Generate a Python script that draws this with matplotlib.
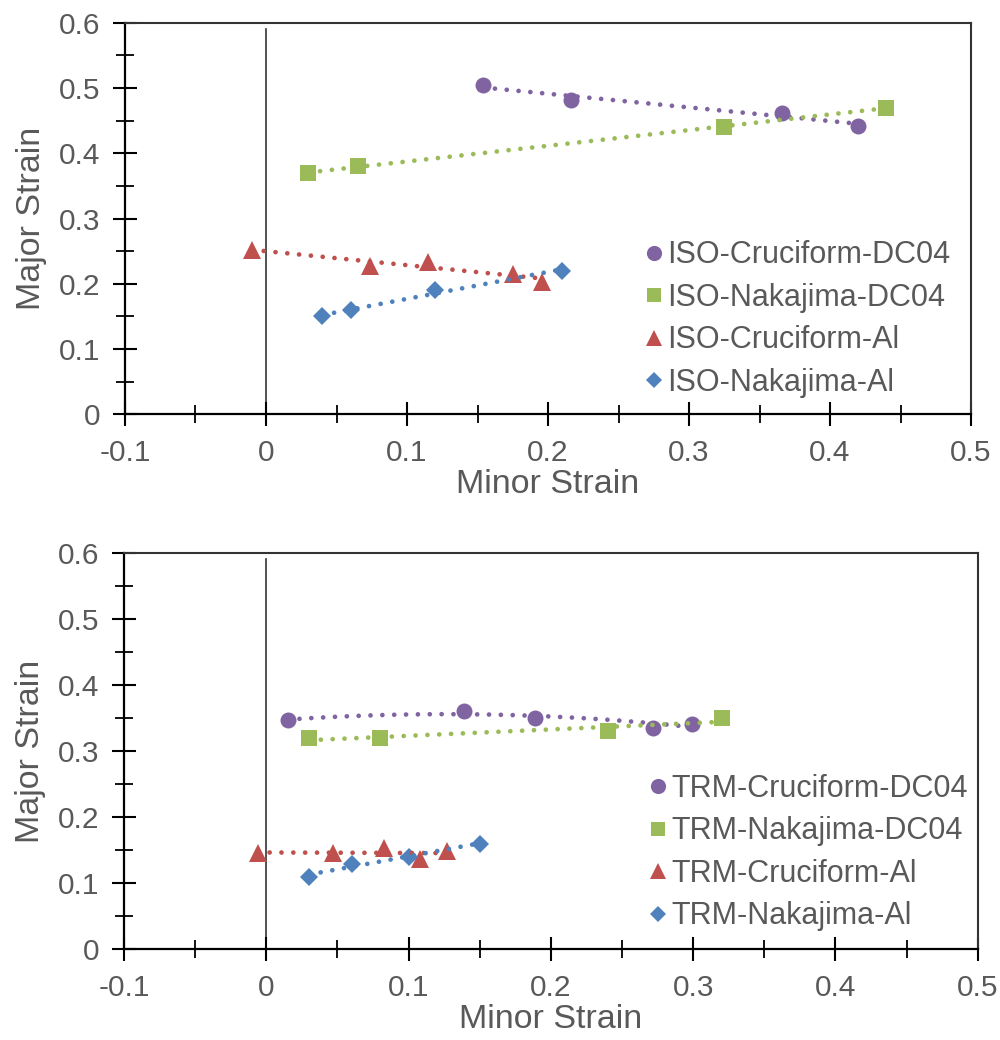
import numpy as np
import matplotlib
matplotlib.use("Agg")
import matplotlib.pyplot as plt
from matplotlib.lines import Line2D
from matplotlib.ticker import MultipleLocator, FuncFormatter

plt.rcParams['font.family'] = ['Liberation Sans', 'DejaVu Sans']

# ---------------- data ----------------
iso_labels = ["ISO-Cruciform-DC04", "ISO-Nakajima-DC04", "ISO-Cruciform-Al", "ISO-Nakajima-Al"]
iso_cru_dc04_x = [0.154, 0.216, 0.366, 0.420]
iso_cru_dc04_y = [0.504, 0.482, 0.462, 0.442]
iso_nak_dc04_x = [0.030, 0.065, 0.325, 0.440]
iso_nak_dc04_y = [0.370, 0.380, 0.440, 0.470]
iso_cru_al_x = [-0.010, 0.074, 0.115, 0.175, 0.196]
iso_cru_al_y = [0.252, 0.228, 0.234, 0.215, 0.203]
iso_nak_al_x = [0.040, 0.060, 0.120, 0.210]
iso_nak_al_y = [0.150, 0.160, 0.190, 0.220]

trm_labels = ["TRM-Cruciform-DC04", "TRM-Nakajima-DC04", "TRM-Cruciform-Al", "TRM-Nakajima-Al"]
trm_cru_dc04_x = [0.015, 0.139, 0.189, 0.272, 0.299]
trm_cru_dc04_y = [0.347, 0.361, 0.351, 0.336, 0.342]
trm_nak_dc04_x = [0.030, 0.080, 0.240, 0.320]
trm_nak_dc04_y = [0.320, 0.320, 0.330, 0.350]
trm_cru_al_x = [-0.006, 0.047, 0.083, 0.108, 0.127]
trm_cru_al_y = [0.146, 0.146, 0.153, 0.137, 0.149]
trm_nak_al_x = [0.030, 0.060, 0.100, 0.150]
trm_nak_al_y = [0.110, 0.130, 0.140, 0.160]

colors = ["#8064A2", "#9BBB59", "#C0504D", "#4F81BD"]
markers = ["o", "s", "^", "D"]
msizes = [11.5, 11.0, 12.5, 9.0]
text_color = "#595959"

fig = plt.figure(figsize=(10, 10.4), dpi=100)
ax1 = fig.add_axes([0.125, 0.6016, 0.846, 0.3766])
ax2 = fig.add_axes([0.124, 0.0872, 0.8537, 0.3808])


def fmt(v, pos):
    if abs(v) < 1e-9:
        return "0"
    return f"{v:g}".replace("\u2212", "-")


def style_axes(ax):
    ax.set_xlim(-0.1, 0.5)
    ax.set_ylim(0, 0.6)
    ax.xaxis.set_major_locator(MultipleLocator(0.1))
    ax.xaxis.set_minor_locator(MultipleLocator(0.05))
    ax.yaxis.set_major_locator(MultipleLocator(0.1))
    ax.yaxis.set_minor_locator(MultipleLocator(0.05))
    ax.xaxis.set_major_formatter(FuncFormatter(fmt))
    ax.yaxis.set_major_formatter(FuncFormatter(fmt))
    ax.tick_params(which='major', direction='inout', length=17, width=1.5,
                   color='black', labelsize=21.5, labelcolor=text_color, pad=9)
    ax.tick_params(which='minor', direction='inout', length=13, width=1.3, color='black')
    ax.tick_params(axis='y', which='both', left=True, right=False)
    ax.tick_params(axis='x', which='both', bottom=True, top=False)
    for s in ['left', 'bottom']:
        ax.spines[s].set_linewidth(1.6)
        ax.spines[s].set_color('black')
    for s in ['top', 'right']:
        ax.spines[s].set_linewidth(1.5)
        ax.spines[s].set_color('#333333')
    ax.axvline(0, ymin=0, ymax=0.985, color='#333333', lw=1.2, zorder=1)
    ax.set_xlabel("Minor Strain", fontsize=24.5, color=text_color, labelpad=2)
    ax.set_ylabel("Major Strain", fontsize=24.5, color=text_color, labelpad=9)


def plot_series(ax, xs, ys, labels, orders):
    handles = []
    for i, (x, y) in enumerate(zip(xs, ys)):
        x = np.asarray(x)
        y = np.asarray(y)
        ax.plot(x, y, linestyle='none', marker=markers[i], markersize=msizes[i],
                color=colors[i], markeredgewidth=0, zorder=3)
        coef = np.polyfit(x, y, orders[i])
        xx = np.linspace(x.min(), x.max(), 200)
        ax.plot(xx, np.polyval(coef, xx), linestyle=(0, (0.01, 2.5)), lw=3.4,
                dash_capstyle='round', color=colors[i], zorder=4)
        handles.append(Line2D([], [], linestyle='none', marker=markers[i],
                              markersize=msizes[i] * 0.95, color=colors[i],
                              markeredgewidth=0, label=labels[i]))
    return handles


style_axes(ax1)
style_axes(ax2)

h1 = plot_series(ax1,
                 [iso_cru_dc04_x, iso_nak_dc04_x, iso_cru_al_x, iso_nak_al_x],
                 [iso_cru_dc04_y, iso_nak_dc04_y, iso_cru_al_y, iso_nak_al_y],
                 iso_labels, [1, 1, 1, 1])
h2 = plot_series(ax2,
                 [trm_cru_dc04_x, trm_nak_dc04_x, trm_cru_al_x, trm_nak_al_x],
                 [trm_cru_dc04_y, trm_nak_dc04_y, trm_cru_al_y, trm_nak_al_y],
                 trm_labels, [2, 1, 1, 1])

for ax, h, anchor in [(ax1, h1, (0.643, 0.769)), (ax2, h2, (0.647, 0.256))]:
    leg = fig.legend(handles=h, loc='upper left', bbox_to_anchor=anchor,
                     frameon=False, fontsize=22, handlelength=0.7,
                     handletextpad=0.1, labelspacing=0.41, borderaxespad=0,
                     borderpad=0)
    for t in leg.get_texts():
        t.set_color(text_color)

fig.savefig("out.png", dpi=100)
